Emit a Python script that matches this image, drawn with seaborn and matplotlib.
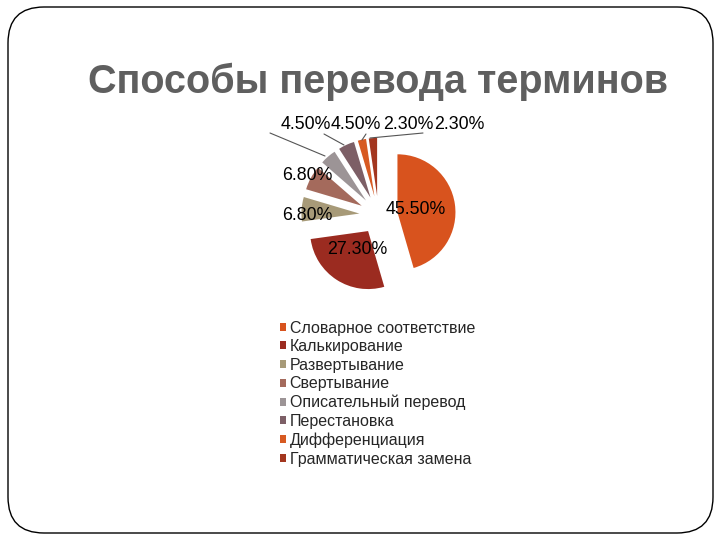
import matplotlib
matplotlib.use("Agg")
import matplotlib.pyplot as plt
import seaborn as sns
from matplotlib.patches import FancyBboxPatch, Patch

sns.set_theme(style="white")
plt.rcParams['font.family'] = ['Liberation Sans', 'DejaVu Sans']

categories = ["Словарное соответствие", "Калькирование", "Развертывание",
              "Свертывание", "Описательный перевод", "Перестановка",
              "Дифференциация", "Грамматическая замена"]
values = [45.5, 27.3, 6.8, 6.8, 4.5, 4.5, 2.3, 2.3]
labels = ["45.50%", "27.30%", "6.80%", "6.80%", "4.50%", "4.50%", "2.30%", "2.30%"]
colors = ["#D8531E", "#9B2B20", "#A79A78", "#A46A5C", "#9C9496", "#7D5F66", "#D75A22", "#A3361F"]

W, H = 720, 540
fig = plt.figure(figsize=(7.2, 5.4), dpi=100)

# rounded slide border
border = FancyBboxPatch((8 / W, 7 / H), 705 / W, 526 / H,
                        boxstyle="round,pad=0,rounding_size=0.05",
                        transform=fig.transFigure, fill=False,
                        edgecolor="black", linewidth=1.0, mutation_aspect=W / H)
fig.patches.append(border)

fig.text(378 / W, 1 - 82 / H, "Способы перевода терминов", ha="center", va="center",
         fontsize=28.5, fontweight="bold", color="#5F5F5F")

# pie axes: center at pixel (378.5, 215), radius 58 px
R = 58.0
cx, cy = 378.5, 215.0
half = 100.0
ax = fig.add_axes([(cx - half) / W, 1 - (cy + half) / H, 2 * half / W, 2 * half / H])
ax.pie(values, colors=colors, startangle=90, counterclock=False,
       explode=[0.33] * len(values), radius=1.0,
       wedgeprops=dict(linewidth=0))
ax.set_xlim(-half / R, half / R)
ax.set_ylim(-half / R, half / R)
ax.set_aspect("equal")
ax.axis("off")

def p2d(px, py):
    return ((px - cx) / R, (cy - py) / R)

label_px = [(416, 209), (357, 249), (307, 215), (307, 175),
            (306, 124), (356, 124), (408, 124), (459, 124)]
for lab, (px, py) in zip(labels, label_px):
    x, y = p2d(px, py)
    ax.text(x, y, lab, ha="center", va="center", fontsize=12.8, color="black", clip_on=False)

# leader lines for small slices
leaders = [((270, 133), (325, 156)), ((324, 134), (344, 145)),
           ((366, 134), (362, 140)), ((423, 133), (370, 138))]
for (p1, p2) in leaders:
    x1, y1 = p2d(*p1)
    x2, y2 = p2d(*p2)
    ax.plot([x1, x2], [y1, y2], color="#555555", linewidth=0.8, clip_on=False)

handles = [Patch(facecolor=c, edgecolor="none") for c in colors]
fig.legend(handles, categories, loc="upper left",
           bbox_to_anchor=(280 / W, 1 - 320.5 / H), frameon=False,
           fontsize=11.5, handlelength=0.4, handleheight=0.4,
           handletextpad=0.2, labelspacing=0.225, borderaxespad=0, borderpad=0)

fig.savefig("out.png", dpi=100, facecolor="white")
